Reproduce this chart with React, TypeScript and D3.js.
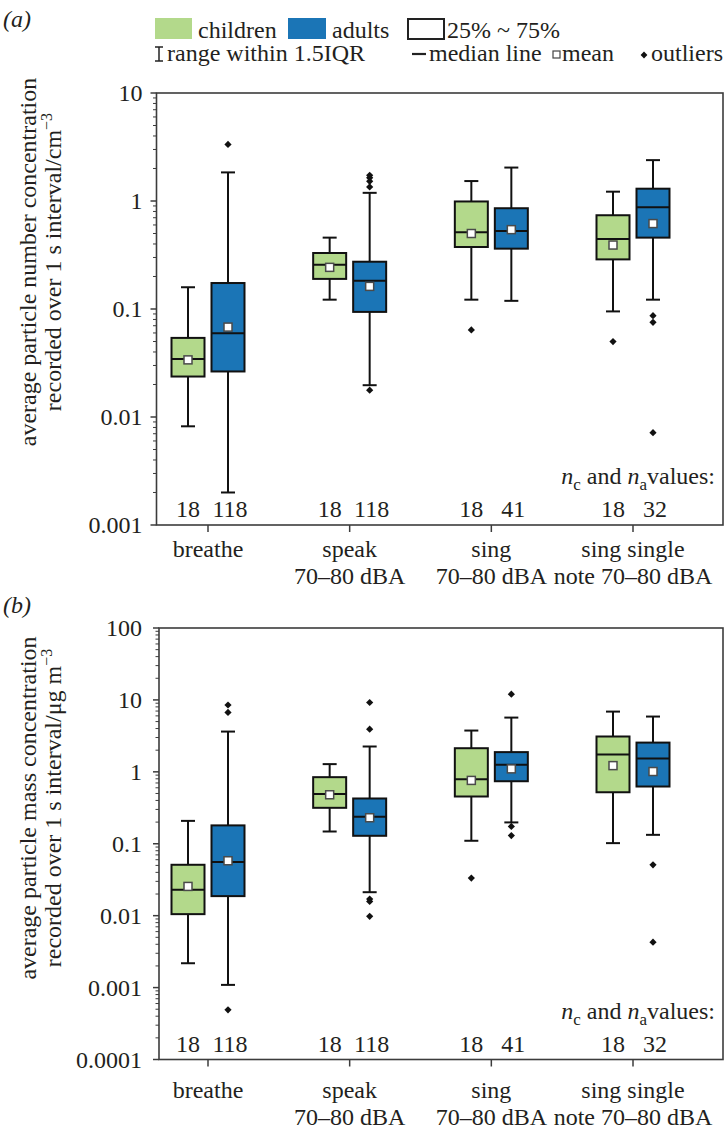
import React from "react";
import * as d3 from "d3";

// ---------- data ----------
const categories: string[][] = [
  ["breathe"],
  ["speak", "70–80 dBA"],
  ["sing", "70–80 dBA"],
  ["sing single", "note 70–80 dBA"],
];
const nChildren = [18, 18, 18, 18];
const nAdults = [118, 118, 41, 32];

// each entry: [lower whisker, Q1, median, Q3, upper whisker]
const numberChildren = [
  [0.0082, 0.0237, 0.0345, 0.054, 0.159],
  [0.122, 0.19, 0.257, 0.33, 0.458],
  [0.122, 0.375, 0.513, 0.99, 1.53],
  [0.095, 0.288, 0.445, 0.738, 1.22],
];
const numberChildrenMean = [0.0338, 0.243, 0.5, 0.391];
const numberChildrenOutliers = [[], [], [0.064], [0.0499]];

const numberAdults = [
  [0.002, 0.0264, 0.0596, 0.174, 1.84],
  [0.0197, 0.094, 0.183, 0.274, 1.19],
  [0.119, 0.362, 0.527, 0.857, 2.04],
  [0.122, 0.458, 0.875, 1.3, 2.39],
];
const numberAdultsMean = [0.068, 0.162, 0.543, 0.618];
const numberAdultsOutliers = [
  [3.34],
  [1.35, 1.52, 1.64, 1.73, 0.0177],
  [],
  [0.0867, 0.0752, 0.00716],
];

const massChildren = [
  [0.00218, 0.0105, 0.0229, 0.051, 0.208],
  [0.148, 0.316, 0.49, 0.843, 1.28],
  [0.11, 0.454, 0.79, 2.13, 3.75],
  [0.102, 0.52, 1.74, 3.1, 6.88],
];
const massChildrenMean = [0.0255, 0.48, 0.76, 1.22];
const massChildrenOutliers = [[], [], [0.0333], []];

const massAdults = [
  [0.00109, 0.0187, 0.0556, 0.18, 3.63],
  [0.0212, 0.129, 0.237, 0.426, 2.25],
  [0.198, 0.74, 1.25, 1.88, 5.68],
  [0.133, 0.625, 1.53, 2.55, 5.87],
];
const massAdultsMean = [0.058, 0.23, 1.1, 1.01];
const massAdultsOutliers = [
  [8.5, 6.7, 0.00049],
  [9.2, 3.92, 0.017, 0.0158, 0.0098],
  [12, 0.174, 0.13],
  [0.051, 0.00428],
];

const numberTicks = [10, 1, 0.1, 0.01, 0.001];
const numberTickLabels = ["10", "1", "0.1", "0.01", "0.001"];
const massTicks = [100, 10, 1, 0.1, 0.01, 0.001, 0.0001];
const massTickLabels = ["100", "10", "1", "0.1", "0.01", "0.001", "0.0001"];

// ---------- style ----------
const FONT = "'Liberation Serif', 'Times New Roman', serif";
const GREEN = "#b3d98b";
const BLUE = "#1b75b6";
const INK = "#231f20";
const AXIS = "#3c3c3c";
const FS = 24;

type Stats = number[][];

function Diamond({ cx, cy, r = 3.6 }: { cx: number; cy: number; r?: number }) {
  return (
    <polygon
      points={`${cx},${cy - r} ${cx + r},${cy} ${cx},${cy + r} ${cx - r},${cy}`}
      fill="#111"
    />
  );
}

function Boxes({
  stats,
  means,
  outliers,
  x,
  y,
  offset,
  fill,
}: {
  stats: Stats;
  means: number[];
  outliers: number[][];
  x: (v: number) => number;
  y: d3.ScaleLogarithmic<number, number>;
  offset: number;
  fill: string;
}) {
  const hw = 16.5;
  const cap = 7;
  return (
    <g>
      {stats.map((s, i) => {
        const cx = x(i) + offset;
        const [wl, q1, med, q3, wh] = s;
        return (
          <g key={i}>
            <line x1={cx} x2={cx} y1={y(wl)} y2={y(q1)} stroke="#111" strokeWidth={2} />
            <line x1={cx} x2={cx} y1={y(q3)} y2={y(wh)} stroke="#111" strokeWidth={2} />
            <line x1={cx - cap} x2={cx + cap} y1={y(wl)} y2={y(wl)} stroke="#111" strokeWidth={2} />
            <line x1={cx - cap} x2={cx + cap} y1={y(wh)} y2={y(wh)} stroke="#111" strokeWidth={2} />
            <rect
              x={cx - hw}
              y={y(q3)}
              width={hw * 2}
              height={y(q1) - y(q3)}
              fill={fill}
              stroke="#111"
              strokeWidth={2}
            />
            <line x1={cx - hw} x2={cx + hw} y1={y(med)} y2={y(med)} stroke="#111" strokeWidth={2} />
            <rect
              x={cx - 4}
              y={y(means[i]) - 4}
              width={8}
              height={8}
              fill="#fff"
              stroke="#4a4a4a"
              strokeWidth={1.5}
            />
            {outliers[i].map((o, k) => (
              <Diamond key={k} cx={cx} cy={y(o)} />
            ))}
          </g>
        );
      })}
    </g>
  );
}

function Panel(props: {
  top: number;
  bottom: number;
  left: number;
  right: number;
  domain: [number, number];
  ticks: number[];
  tickLabels: string[];
  children: Stats;
  childrenMean: number[];
  childrenOut: number[][];
  adults: Stats;
  adultsMean: number[];
  adultsOut: number[][];
  title1: string;
  title2: React.ReactNode;
  titleY: number;
  catLabelY: number;
  labelGap: number;
}) {
  const { top, bottom, left, right, domain } = props;
  const y = d3.scaleLog().domain(domain).range([bottom, top]);
  const xs = d3.scaleLinear().domain([0, 3]).range([208, 633]);
  const x = (v: number) => xs(v);

  const minor: number[] = [];
  const lo = Math.round(Math.log10(domain[0]));
  const hi = Math.round(Math.log10(domain[1]));
  for (let e = lo; e < hi; e++) {
    for (let k = 2; k <= 9; k++) minor.push(k * Math.pow(10, e));
  }

  return (
    <g fontFamily={FONT} fill={INK}>
      <rect x={left} y={top} width={right - left} height={bottom - top} fill="none" stroke={AXIS} strokeWidth={1.6} />
      {props.ticks.map((t, i) => (
        <g key={t}>
          <line x1={left - 6} x2={left} y1={y(t)} y2={y(t)} stroke={AXIS} strokeWidth={1.5} />
          <text x={left - props.labelGap} y={y(t)} dy="0.35em" textAnchor="end" fontSize={FS}>
            {props.tickLabels[i]}
          </text>
        </g>
      ))}
      {minor.map((t) => (
        <line key={t} x1={left - 3.5} x2={left} y1={y(t)} y2={y(t)} stroke={AXIS} strokeWidth={1} />
      ))}
      {categories.map((c, i) => (
        <g key={i}>
          <line x1={x(i)} x2={x(i)} y1={bottom} y2={bottom + 7} stroke={AXIS} strokeWidth={1.5} />
          {c.map((ln, k) => (
            <text key={k} x={x(i)} y={props.catLabelY + k * 27} textAnchor="middle" fontSize={FS}>
              {ln}
            </text>
          ))}
          <text x={x(i) - 20} y={bottom - 8} textAnchor="middle" fontSize={FS}>
            {nChildren[i]}
          </text>
          <text x={x(i) + 22} y={bottom - 8} textAnchor="middle" fontSize={FS}>
            {nAdults[i]}
          </text>
        </g>
      ))}
      <text x={715} y={bottom - 41} textAnchor="end" fontSize={FS}>
        <tspan fontStyle="italic">n</tspan>
        <tspan fontSize={17} dy={6}>c</tspan>
        <tspan dy={-6}> and </tspan>
        <tspan fontStyle="italic">n</tspan>
        <tspan fontSize={17} dy={6}>a</tspan>
        <tspan dy={-6}>values:</tspan>
      </text>
      <Boxes stats={props.children} means={props.childrenMean} outliers={props.childrenOut} x={x} y={y} offset={-20} fill={GREEN} />
      <Boxes stats={props.adults} means={props.adultsMean} outliers={props.adultsOut} x={x} y={y} offset={20} fill={BLUE} />
      <text transform={`translate(36,${props.titleY}) rotate(-90)`} textAnchor="middle" fontSize={FS}>
        {props.title1}
      </text>
      <text transform={`translate(61,${props.titleY}) rotate(-90)`} textAnchor="middle" fontSize={FS}>
        {props.title2}
      </text>
    </g>
  );
}

function Legend() {
  return (
    <g fontFamily={FONT} fill={INK} fontSize={FS}>
      <rect x={155} y={18} width={37} height={21} fill={GREEN} />
      <text x={198} y={38}>children</text>
      <rect x={288} y={18} width={38} height={21} fill={BLUE} />
      <text x={332} y={38}>adults</text>
      <rect x={408} y={19} width={36} height={20} fill="#fff" stroke="#222" strokeWidth={2} />
      <text x={447} y={38}>25% ~ 75%</text>

      <line x1={159} x2={159} y1={47} y2={61} stroke="#222" strokeWidth={1.5} />
      <line x1={155} x2={163} y1={47} y2={47} stroke="#222" strokeWidth={1.5} />
      <line x1={155} x2={163} y1={61} y2={61} stroke="#222" strokeWidth={1.5} />
      <text x={167} y={61}>range within 1.5IQR</text>
      <line x1={412} x2={426} y1={54} y2={54} stroke="#222" strokeWidth={2.2} />
      <text x={429} y={61}>median line</text>
      <rect x={553} y={51} width={7} height={7} fill="#fff" stroke="#444" strokeWidth={1.2} />
      <text x={562} y={61}>mean</text>
      <Diamond cx={644} cy={55} r={3.4} />
      <text x={651} y={61}>outliers</text>

      <text x={3} y={27} fontStyle="italic">(a)</text>
      <text x={3} y={613} fontStyle="italic">(b)</text>
    </g>
  );
}

export default function App() {
  return (
    <svg width={727} height={1134} style={{ display: "block", position: "absolute", left: 0, top: 0, background: "#fff" }}>
      <rect width={727} height={1134} fill="#fff" />
      <Legend />
      <Panel
        top={93}
        bottom={525}
        left={156.5}
        right={723}
        domain={[0.001, 10]}
        ticks={numberTicks}
        tickLabels={numberTickLabels}
        children={numberChildren}
        childrenMean={numberChildrenMean}
        childrenOut={numberChildrenOutliers}
        adults={numberAdults}
        adultsMean={numberAdultsMean}
        adultsOut={numberAdultsOutliers}
        title1="average particle number concentration"
        title2={
          <>
            recorded over 1 s interval/cm
            <tspan fontSize={16} dy={-9}>−3</tspan>
          </>
        }
        titleY={262}
        catLabelY={557}
        labelGap={14}
      />
      <Panel
        top={628}
        bottom={1059.5}
        left={159}
        right={723}
        domain={[0.0001, 100]}
        ticks={massTicks}
        tickLabels={massTickLabels}
        children={massChildren}
        childrenMean={massChildrenMean}
        childrenOut={massChildrenOutliers}
        adults={massAdults}
        adultsMean={massAdultsMean}
        adultsOut={massAdultsOutliers}
        title1="average particle mass concentration"
        title2={
          <>
            recorded over 1 s interval/μg m
            <tspan fontSize={16} dy={-9}>−3</tspan>
          </>
        }
        titleY={808}
        catLabelY={1098}
        labelGap={17}
      />
    </svg>
  );
}
